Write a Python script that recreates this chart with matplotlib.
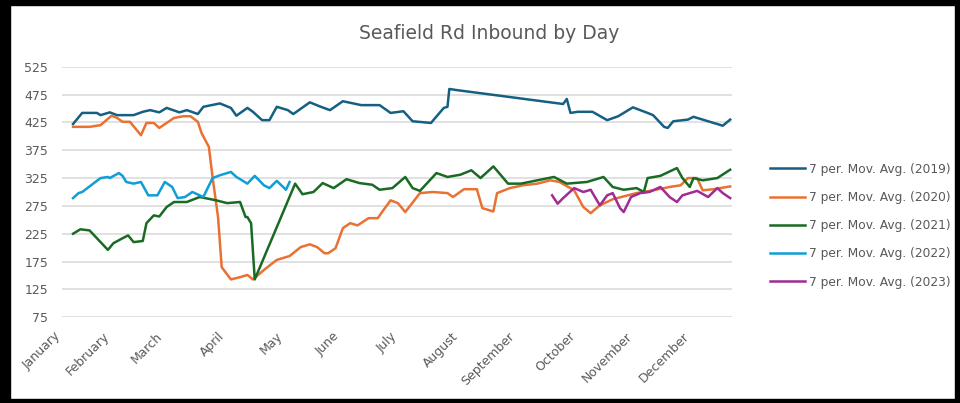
import numpy as np
import matplotlib.pyplot as plt
from matplotlib.patches import Rectangle

# 7-day moving averages, x = day of year
days_2019 = [7, 12, 20, 22, 27, 31, 40, 45, 49, 54, 58, 65, 69, 75, 78, 87, 93, 96, 102, 105,
             110, 114, 118, 124, 127, 136, 142, 147, 154, 164, 174, 180, 187, 192, 202, 209,
             211, 212, 216, 274, 276, 278, 282, 290, 298, 304, 312, 320, 323, 329, 331, 334,
             342, 345, 356, 361, 365]
vals_2019 = [422, 442, 442, 438, 443, 438, 438, 444, 447, 443, 451, 443, 447, 440, 453, 459, 451,
             437, 451, 444, 429, 429, 453, 447, 440, 461, 453, 447, 463, 456, 456, 442, 445, 427,
             424, 451, 453, 485, 483, 458, 467, 442, 444, 444, 429, 436, 452, 442, 438, 417, 415,
             427, 430, 435, 424, 419, 430]

days_2020 = [7, 16, 22, 28, 31, 34, 38, 44, 47, 51, 54, 58, 62, 67, 71, 75, 77, 81, 83, 86, 88,
             93, 98, 102, 105, 111, 118, 125, 131, 136, 140, 144, 146, 150, 154, 158, 162, 168,
             173, 176, 180, 184, 188, 196, 203, 211, 214, 220, 227, 230, 236, 238, 245, 252, 260,
             267, 272, 280, 285, 289, 294, 301, 314, 323, 332, 338, 342, 347, 350, 356, 365]
vals_2020 = [417, 417, 420, 437, 433, 426, 426, 402, 424, 424, 415, 424, 433, 436, 436, 426, 406,
             381, 327, 255, 165, 143, 147, 151, 143, 160, 178, 185, 201, 206, 201, 190, 190, 199,
             235, 244, 240, 253, 253, 267, 285, 280, 264, 298, 300, 298, 291, 305, 305, 271, 265,
             298, 307, 312, 315, 321, 318, 303, 273, 262, 276, 287, 298, 303, 309, 312, 325, 325,
             303, 305, 310]

days_2021 = [7, 11, 16, 20, 26, 29, 34, 37, 40, 45, 47, 51, 54, 58, 62, 69, 76, 85, 91, 98, 101,
             102, 104, 106, 128, 132, 138, 143, 149, 156, 163, 170, 174, 181, 188, 192, 196, 205,
             211, 218, 224, 229, 236, 244, 251, 269, 276, 287, 296, 301, 307, 314, 318, 320, 327,
             336, 339, 343, 345, 350, 358, 365]
vals_2021 = [225, 233, 231, 217, 196, 208, 217, 222, 210, 212, 244, 258, 256, 273, 282, 282, 291,
             285, 280, 282, 255, 255, 244, 143, 315, 296, 300, 316, 307, 323, 316, 313, 304, 307,
             327, 307, 302, 334, 327, 331, 339, 325, 346, 315, 315, 327, 315, 318, 327, 309, 304,
             307, 300, 325, 329, 343, 325, 309, 325, 321, 325, 340]

days_2022 = [7, 10, 12, 18, 22, 26, 27, 32, 34, 36, 40, 44, 48, 53, 57, 61, 64, 68, 72, 78, 83,
             87, 93, 96, 102, 106, 111, 114, 118, 123, 125]
vals_2022 = [289, 298, 300, 315, 325, 327, 325, 334, 329, 318, 315, 318, 294, 294, 318, 309, 289,
             291, 300, 291, 325, 330, 336, 327, 315, 329, 312, 307, 320, 304, 318]

days_2023 = [268, 271, 274, 280, 285, 289, 294, 298, 301, 305, 307, 311, 316, 321, 327, 332, 336,
             339, 347, 353, 358, 361, 365]
vals_2023 = [294, 279, 289, 307, 300, 304, 276, 294, 298, 271, 264, 291, 298, 300, 309, 291, 282,
             294, 302, 291, 307, 298, 289]

months = ['January', 'February', 'March', 'April', 'May', 'June', 'July', 'August',
          'September', 'October', 'November', 'December']
month_pos = [1.5, 28, 57, 91, 122.5, 153.6, 185, 218, 249, 282, 313, 344]
y_ticks = [75, 125, 175, 225, 275, 325, 375, 425, 475, 525]

series = [
    (days_2019, vals_2019, '7 per. Mov. Avg. (2019)', '#156082'),
    (days_2020, vals_2020, '7 per. Mov. Avg. (2020)', '#E97132'),
    (days_2021, vals_2021, '7 per. Mov. Avg. (2021)', '#196B24'),
    (days_2022, vals_2022, '7 per. Mov. Avg. (2022)', '#0F9ED5'),
    (days_2023, vals_2023, '7 per. Mov. Avg. (2023)', '#A02B93'),
]

fig = plt.figure(figsize=(9.6, 4.03), dpi=100)
ax = fig.add_axes([0.0646, 0.2127, 0.6979, 0.6218])

for d, v, lab, col in series:
    ax.plot(d, v, color=col, lw=1.8, label=lab, solid_joinstyle='round')

ax.set_xlim(1, 366)
ax.set_ylim(75, 525)
ax.set_yticks(y_ticks)
ax.set_xticks(month_pos)
ax.set_xticklabels(months, rotation=45, ha='right', va='top')
ax.tick_params(axis='both', length=0, labelsize=9, labelcolor='#595959')
ax.tick_params(axis='y', pad=10)
ax.tick_params(axis='x', pad=9)
ax.grid(axis='y', color='#D9D9D9', lw=1.1)
ax.set_axisbelow(True)
for s in ax.spines.values():
    s.set_visible(False)

fig.text(0.51, 0.918, 'Seafield Rd Inbound by Day', ha='center', va='center',
         fontsize=13.5, color='#595959')

fig.legend(loc='center left', bbox_to_anchor=(0.802, 0.44), frameon=False,
           fontsize=8.8, handlelength=2.9, handletextpad=0.3, labelspacing=1.25,
           borderpad=0, borderaxespad=0, labelcolor='#595959')

# black screenshot frame
for r in [(0, 0, 10 / 960, 1), (0, 1 - 5 / 403, 1, 5 / 403),
          (1 - 5 / 960, 0, 5 / 960, 1), (0, 0, 1, 4 / 403)]:
    fig.patches.append(Rectangle(r[:2], r[2], r[3], transform=fig.transFigure,
                                 color='black', zorder=10))

fig.savefig('out.png', dpi=100)
